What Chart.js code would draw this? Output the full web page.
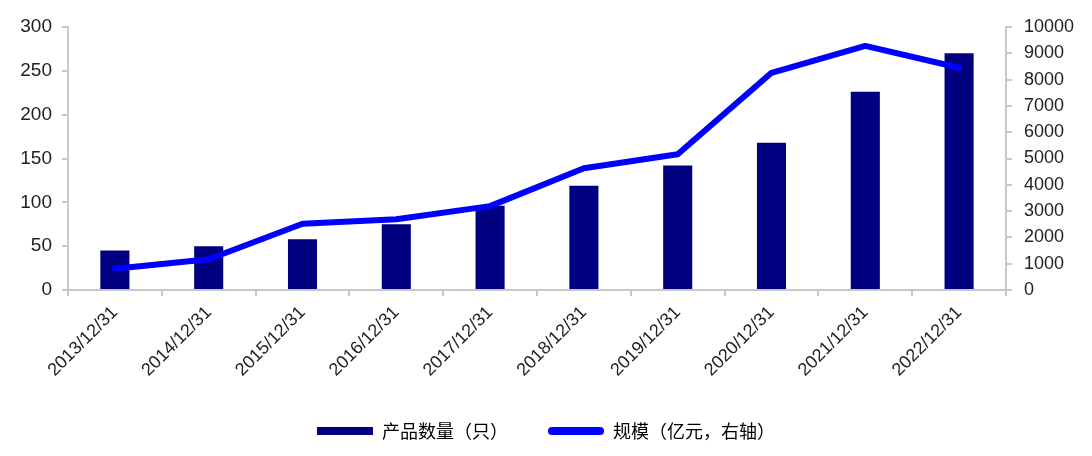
<!DOCTYPE html>
<html>
<head>
<meta charset="utf-8">
<script src="https://cdn.jsdelivr.net/npm/chart.js@4/dist/chart.umd.min.js"></script>
<style>
  html, body { margin: 0; padding: 0; background: #fff; }
  #wrap { width: 1092px; height: 456px; }
</style>
</head>
<body>
<div id="wrap"><canvas id="chart"></canvas></div>
<script>
const dates = ["2013/12/31", "2014/12/31", "2015/12/31", "2016/12/31", "2017/12/31",
  "2018/12/31", "2019/12/31", "2020/12/31", "2021/12/31", "2022/12/31"];
const productCount = [45, 50, 58, 75, 96, 119, 142, 168, 226, 270];
const scale = [810, 1170, 2520, 2690, 3190, 4630, 5160, 8260, 9280, 8450];
const leftTicks = [0, 50, 100, 150, 200, 250, 300];
const rightTicks = [0, 1000, 2000, 3000, 4000, 5000, 6000, 7000, 8000, 9000, 10000];

const axisGrey = '#c8c8c8';
const numFont = '"Liberation Sans", Arial, sans-serif';

const chart = new Chart(document.getElementById('chart'), {
  data: {
    labels: dates,
    datasets: [
      {
        type: 'line',
        label: '规模（亿元，右轴）',
        data: scale,
        yAxisID: 'y1',
        borderColor: '#0000ff',
        backgroundColor: '#0000ff',
        borderWidth: 6,
        borderCapStyle: 'round',
        borderJoinStyle: 'round',
        pointRadius: 0,
        tension: 0,
        order: 0
      },
      {
        type: 'bar',
        label: '产品数量（只）',
        data: productCount,
        yAxisID: 'y',
        backgroundColor: '#000080',
        borderWidth: 0,
        barPercentage: 0.31,
        categoryPercentage: 1,
        order: 1
      }
    ]
  },
  options: {
    responsive: true,
    maintainAspectRatio: false,
    animation: false,
    layout: { padding: { top: 27, bottom: 6 } },
    plugins: {
      tooltip: { enabled: false },
      legend: {
        position: 'bottom',
        reverse: true,
        labels: {
          color: '#222',
          font: { family: '"Noto Sans CJK SC", sans-serif', size: 18 },
          boxWidth: 56,
          boxHeight: 8,
          padding: 40,
          useBorderRadius: true,
          generateLabels(chart) {
            return chart.data.datasets.map((ds, i) => ({
              text: ds.label,
              fillStyle: ds.type === 'line' ? ds.borderColor : ds.backgroundColor,
              strokeStyle: 'transparent',
              lineWidth: 0,
              borderRadius: ds.type === 'line' ? 4 : 0,
              datasetIndex: i,
              hidden: false
            }));
          }
        }
      }
    },
    scales: {
      x: {
        offset: true,
        border: { color: axisGrey, width: 2 },
        grid: { display: true, offset: true, drawOnChartArea: false, color: axisGrey, tickLength: 6, lineWidth: 2 },
        ticks: { color: '#222', font: { family: numFont, size: 18 }, minRotation: 45, maxRotation: 45, padding: 6 },
        afterFit(s) { s.height = 92; }
      },
      y: {
        position: 'left',
        min: 0, max: 300,
        afterBuildTicks(s) { s.ticks = leftTicks.map(v => ({ value: v })); },
        border: { color: axisGrey, width: 2 },
        grid: { drawOnChartArea: false, color: axisGrey, tickLength: 6, lineWidth: 2 },
        ticks: { color: '#222', font: { family: numFont, size: 19 }, padding: 10 },
        afterFit(s) { s.width = 68; }
      },
      y1: {
        position: 'right',
        min: 0, max: 10000,
        afterBuildTicks(s) { s.ticks = rightTicks.map(v => ({ value: v })); },
        border: { color: axisGrey, width: 2 },
        grid: { drawOnChartArea: false, color: axisGrey, tickLength: 6, lineWidth: 2 },
        ticks: { color: '#222', font: { family: numFont, size: 18 }, padding: 12, callback: v => String(v) },
        afterFit(s) { s.width = 86; }
      }
    }
  }
});
</script>
</body>
</html>
